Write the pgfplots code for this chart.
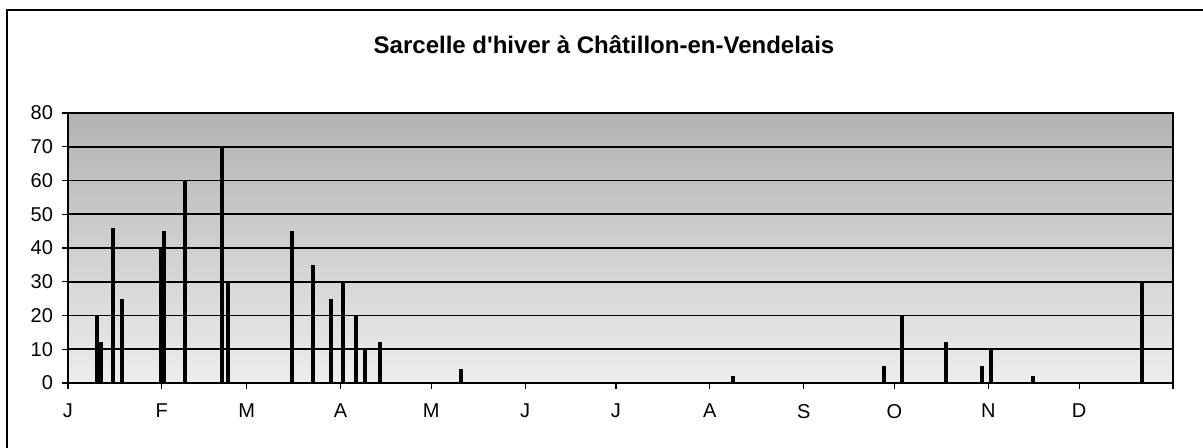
\documentclass[border=0pt]{standalone}
\usepackage{pgfplots}
\pgfplotsset{compat=1.18}
\usepackage{fontspec}
\setmainfont{Liberation Sans}
\begin{document}
\begin{tikzpicture}
\useasboundingbox (0,0) rectangle (601.5pt,224pt);
\draw[line width=0.8pt] (3.5pt,-2pt) -- (3.5pt,219pt) -- (605pt,219pt);
\node[font=\fontsize{12}{14}\selectfont\bfseries] at (302pt,201.5pt) {Sarcelle d\textquotesingle hiver à Châtillon-en-Vendelais};
\begin{axis}[
  at={(34pt,32.5pt)}, anchor=south west,
  scale only axis, width=552.5pt, height=135pt,
  xmin=0, xmax=365, ymin=0, ymax=80,
  xtick={0,31,59,90,120,151,181,212,243,273,304,334,365},
  xticklabels={J,F,M,A,M,J,J,A,S,O,N,D,},
  ytick={0,10,...,80},
  xtick pos=bottom, ytick pos=left,
  tick align=outside,
  major tick length=3pt,
  tick style={black, line width=0.6pt},
  ymajorgrids,
  grid style={black, line width=0.8pt},
  axis line style={black, line width=0.8pt},
  axis background/.style={shade, top color=black!30, bottom color=black!7},
  tick label style={font=\fontsize{10}{12}\selectfont},
  /pgf/number format/assume math mode=true,
  xticklabel style={yshift=-4pt},
  yticklabel style={xshift=-1pt},
  clip=false,
]
\addplot+[ycomb, black, line width=1.9pt, mark=none] coordinates {
(9.6,20) (10.8,12) (14.8,46) (17.8,25) (30.7,40) (31.7,45) (38.7,60)
(50.8,70) (52.9,30) (74,45) (80.9,35) (86.9,25) (90.8,30) (95.1,20)
(98.1,10) (103,12) (129.8,4) (219.7,2) (269.6,5) (275.5,20) (290,12)
(302,5) (305,10) (318.8,2) (354.8,30)
};
\end{axis}
\end{tikzpicture}
\end{document}
